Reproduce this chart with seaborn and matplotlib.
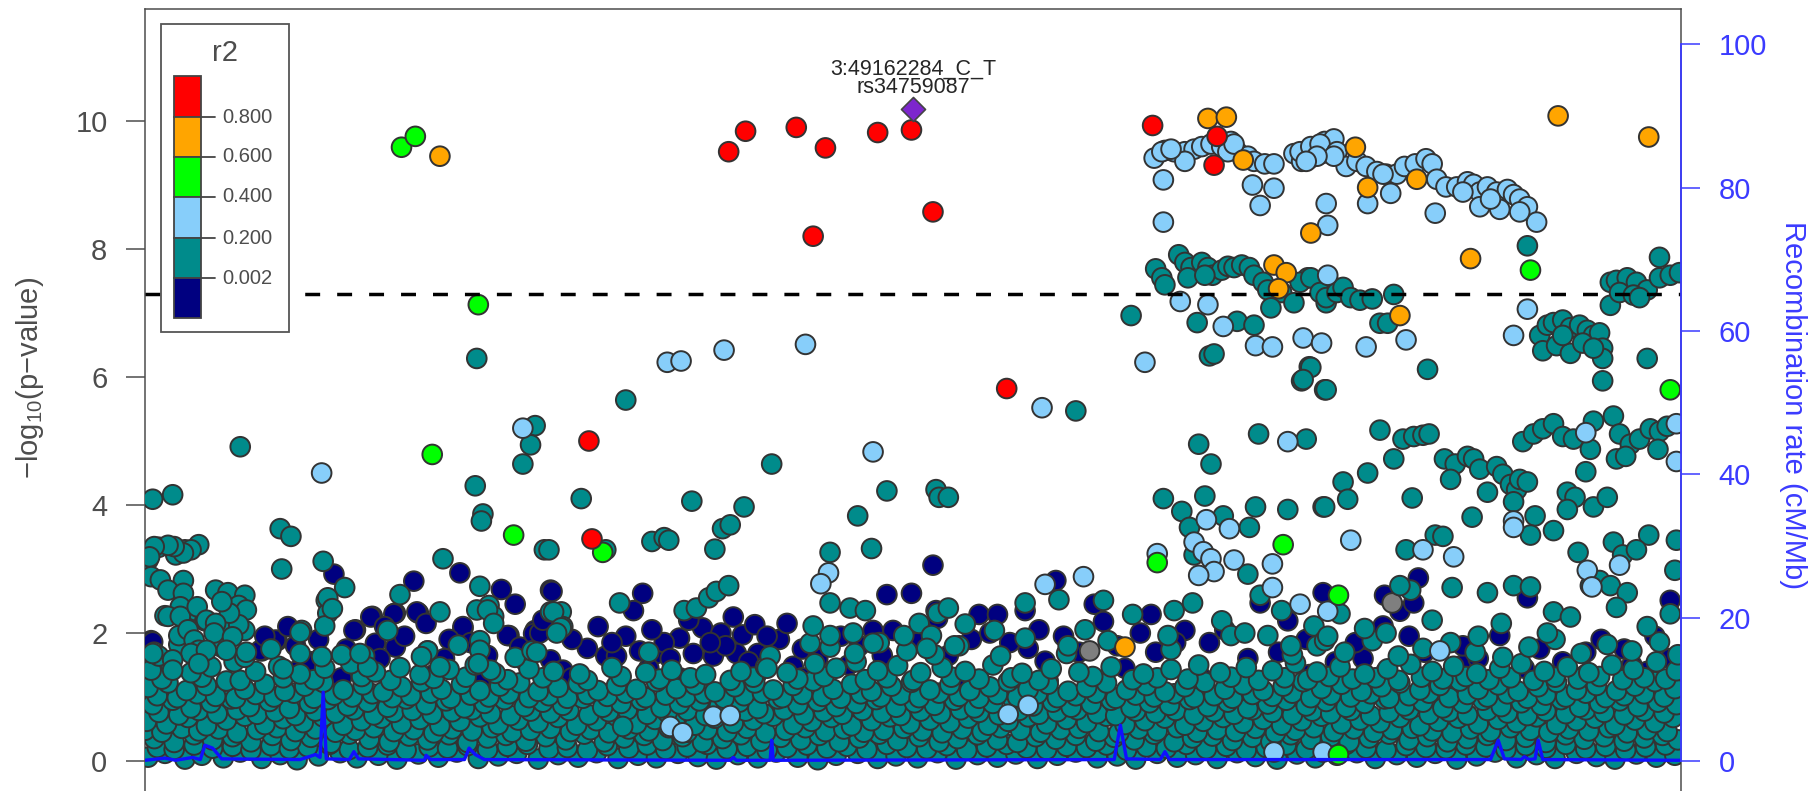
"""
Regional association plot (LocusZoom style) around 3:49162284
"""

import pandas as pd
import matplotlib.pyplot as plt
from matplotlib.patches import Rectangle
import seaborn as sns

# ---- data: (position in kb on chr3, -log10 p) grouped by LD r2 bin ----
lead_snp = (49162.284, 10.19)
lead_names = ['3:49162284_C_T', 'rs34759087']

red_snps = [(48951, 5.0), (48953, 3.47), (49042, 9.52), (49053, 9.84), (49086, 9.90),
            (49097, 8.2), (49105, 9.58), (49139, 9.82), (49161, 9.86), (49175, 8.58),
            (49223, 5.82), (49318, 9.93), (49360, 9.76), (49358, 9.31)]

orange_snps = [(48854, 9.45), (49354, 10.04), (49366, 10.06), (49377, 9.39), (49421, 8.25),
               (49397, 7.75), (49405, 7.63), (49400, 7.38), (49300, 1.78), (49450, 9.59),
               (49458, 8.96), (49490, 9.09), (49525, 7.85), (49479, 6.96), (49582, 10.08),
               (49641, 9.75)]

green_snps = [(48829, 9.59), (48838, 9.76), (48879, 7.13), (48849, 4.79), (48902, 3.53),
              (48960, 3.26), (49321, 3.10), (49403, 3.38), (49439, 2.59), (49439, 0.10),
              (49564, 7.67), (49655, 5.80)]

ltblue_snps = [(48908, 5.20), (48777, 4.50), (49002, 6.23), (49011, 6.25), (49039, 6.42),
               (49092, 6.51), (49136, 4.83), (49107, 2.94), (49102, 2.77), (49004, 0.54),
               (49012, 0.44), (49032, 0.70), (49043, 0.71),
               (49319, 9.42), (49326, 9.54), (49332, 9.52), (49339, 9.52), (49345, 9.56),
               (49350, 9.60), (49356, 9.64), (49363, 9.60), (49369, 9.68), (49373, 9.52),
               (49380, 9.45), (49384, 9.37), (49391, 9.33), (49397, 9.33), (49410, 9.49),
               (49417, 9.52), (49426, 9.60), (49430, 9.68), (49434, 9.52), (49339, 9.37),
               (49324, 9.52), (49330, 9.56), (49367, 9.52), (49371, 9.64), (49415, 9.37),
               (49420, 9.41), (49428, 9.49), (49436, 9.72),
               (49325, 9.08), (49383, 9.0), (49397, 8.95), (49388, 8.68), (49325, 8.42),
               (49431, 8.71), (49432, 8.37), (49432, 7.59), (49336, 7.18), (49354, 7.13),
               (49364, 6.79), (49385, 6.49), (49396, 6.47), (49416, 6.61), (49428, 6.53),
               (49313, 6.23), (49246, 5.52), (49406, 4.99), (49353, 3.77), (49368, 3.63),
               (49345, 3.42), (49351, 3.27), (49356, 3.16), (49358, 2.96), (49348, 2.90),
               (49371, 3.14), (49321, 3.24), (49396, 3.08), (49396, 2.71), (49414, 2.45),
               (49432, 2.34), (49248, 2.76), (49273, 2.88), (49224, 0.73), (49237, 0.87),
               (49397, 0.14), (49429, 0.14),
               (49414, 9.52), (49421, 9.60), (49427, 9.64), (49438, 9.52), (49444, 9.29),
               (49451, 9.37), (49457, 9.29), (49464, 9.21), (49470, 9.17), (49477, 9.17),
               (49482, 9.29), (49489, 9.33), (49496, 9.41), (49500, 9.33), (49503, 9.09),
               (49509, 8.97), (49516, 8.97), (49523, 9.05), (49527, 9.01), (49531, 8.89),
               (49536, 8.97), (49542, 8.89), (49549, 8.93), (49553, 8.85), (49557, 8.78),
               (49562, 8.66), (49568, 8.42), (49531, 8.66), (49544, 8.62), (49557, 8.58),
               (49436, 9.45), (49425, 9.45), (49418, 9.37), (49468, 9.17), (49520, 8.89),
               (49538, 8.78), (49458, 8.71), (49473, 8.87), (49502, 8.56), (49562, 7.06),
               (49553, 6.65), (49457, 6.47), (49483, 6.58), (49447, 3.45), (49494, 3.30),
               (49514, 3.19), (49553, 3.75), (49553, 3.65), (49505, 1.72), (49600, 5.13),
               (49659, 5.27), (49659, 4.68), (49601, 2.98), (49604, 2.72), (49622, 3.06)]

teal_snps = [(48878, 6.29), (48916, 5.24), (48913, 4.94), (48908, 4.64), (48724, 4.91),
             (48877, 4.30), (48882, 3.86), (48881, 3.75), (48667, 4.09), (48680, 4.16),
             (48750, 3.63), (48757, 3.51), (48751, 3.0), (48778, 3.12), (48792, 2.71),
             (48856, 3.16), (48880, 2.73), (48922, 3.3), (48828, 2.60), (48780, 2.51),
             (48781, 2.31), (48779, 2.11), (48764, 2.04), (48854, 2.33), (48886, 2.43),
             (48889, 2.26), (48880, 1.88), (48914, 1.72), (48820, 2.04), (48846, 1.72),
             (48805, 1.64), (48708, 2.67), (48716, 2.63), (48727, 2.59), (48697, 3.38),
             (48688, 3.30), (48682, 3.22), (48671, 3.34), (48664, 3.14), (48687, 2.82),
             (48686, 2.43), (48695, 2.35), (48675, 2.27), (48701, 2.19), (48723, 2.43),
             (48716, 2.11), (48727, 2.04), (48684, 1.96), (48712, 1.88), (48671, 1.64),
             (48692, 3.30), (48687, 3.25), (48681, 3.35), (48677, 3.37), (48668, 3.35),
             (48665, 3.19), (48666, 2.88), (48672, 2.83), (48677, 2.67), (48687, 2.62),
             (48685, 2.41), (48677, 2.26), (48685, 2.26), (48690, 2.05), (48694, 1.89),
             (48697, 1.73), (48692, 1.68), (48680, 1.58), (48680, 1.42), (48667, 1.68),
             (48696, 2.41), (48702, 2.20), (48728, 2.36), (48723, 2.13), (48717, 2.31),
             (48712, 2.49), (48708, 2.15), (48707, 2.0), (48719, 1.94), (48728, 1.70),
             (48715, 1.73), (48702, 1.73), (48697, 1.52), (48763, 2.01), (48781, 2.55),
             (48784, 2.38), (48878, 2.36), (48885, 2.36), (48889, 2.15), (48866, 1.81),
             (48917, 1.70), (48926, 2.33), (48933, 2.33), (48934, 2.10), (48880, 1.73),
             (48887, 1.42), (48879, 1.52), (48854, 1.47), (48842, 1.63), (48807, 1.47),
             (48802, 1.68), (48777, 1.63), (48763, 1.68), (48752, 1.44),
             (48975, 5.64), (48946, 4.10), (49018, 4.06), (49070, 4.64), (49145, 4.22),
             (49126, 3.83), (49135, 3.32), (49177, 4.24), (49179, 4.12), (48962, 3.3),
             (48925, 3.3), (48992, 3.43), (49000, 3.49), (49003, 3.45), (49033, 3.31),
             (49038, 3.63), (49043, 3.69), (49052, 3.97), (49108, 3.26), (49108, 2.47),
             (48971, 2.47), (48928, 2.33), (48933, 2.08), (48930, 2.0), (49013, 2.35),
             (49021, 2.39), (49029, 2.55), (49034, 2.65), (49042, 2.74), (49067, 1.45),
             (49095, 1.84), (49097, 2.11), (49108, 1.96), (49121, 2.39), (49131, 2.35),
             (49123, 2.0), (49136, 1.84), (49156, 1.96), (49166, 2.15), (49174, 1.96),
             (49171, 1.76), (49178, 2.31), (48973, 0.54),
             (49320, 7.69), (49324, 7.55), (49326, 7.44), (49335, 7.91), (49339, 7.79),
             (49343, 7.71), (49350, 7.79), (49354, 7.71), (49357, 7.59), (49363, 7.67),
             (49367, 7.73), (49371, 7.71), (49376, 7.75), (49381, 7.71), (49384, 7.59),
             (49390, 7.48), (49393, 7.36), (49402, 7.32), (49410, 7.16), (49419, 7.55),
             (49426, 7.48), (49431, 7.16), (49436, 7.40), (49341, 7.55), (49352, 7.59),
             (49304, 6.96), (49347, 6.85), (49373, 6.87), (49384, 6.81), (49395, 7.08),
             (49355, 6.33), (49358, 6.36), (49420, 6.16), (49415, 5.94), (49430, 5.80),
             (49268, 5.47), (49185, 4.12), (49387, 5.11), (49418, 5.03), (49348, 4.95),
             (49356, 4.64), (49325, 4.10), (49337, 3.90), (49352, 4.14), (49385, 3.97),
             (49406, 3.93), (49429, 3.97), (49364, 3.83), (49381, 3.65), (49342, 3.65),
             (49345, 3.22), (49380, 2.92), (49388, 2.59), (49257, 2.52), (49185, 2.39),
             (49196, 2.14), (49215, 2.04), (49235, 2.47), (49286, 2.51), (49274, 2.05),
             (49305, 2.29), (49332, 2.35), (49344, 2.47), (49363, 2.19), (49369, 1.96),
             (49328, 1.96), (49378, 2.0), (49402, 2.35), (49423, 2.11), (49430, 1.88),
             (49393, 1.96), (49408, 1.80), (49235, 1.92), (49189, 1.80), (49219, 1.64),
             (49263, 1.80), (49289, 1.88),
             (49414, 7.48), (49421, 7.55), (49427, 7.32), (49431, 7.24), (49438, 7.32),
             (49442, 7.40), (49447, 7.24), (49453, 7.20), (49461, 7.22), (49475, 7.29),
             (49466, 6.84), (49471, 6.84), (49421, 6.15), (49416, 5.96), (49431, 5.80),
             (49497, 6.12), (49562, 8.05),
             (49570, 6.65), (49575, 6.81), (49579, 6.85), (49585, 6.89), (49590, 6.77),
             (49596, 6.81), (49601, 6.73), (49605, 6.65), (49609, 6.69), (49611, 6.45),
             (49611, 6.29), (49572, 6.41), (49581, 6.49), (49590, 6.37), (49598, 6.53),
             (49605, 6.45), (49585, 6.65), (49611, 5.94), (49640, 6.29),
             (49616, 7.48), (49620, 7.51), (49627, 7.55), (49633, 7.48), (49640, 7.36),
             (49648, 7.87), (49648, 7.55), (49655, 7.59), (49661, 7.63), (49616, 7.12),
             (49622, 7.32), (49631, 7.28), (49635, 7.24),
             (49466, 5.17), (49481, 5.03), (49488, 5.07), (49494, 5.09), (49498, 5.11),
             (49475, 4.72), (49458, 4.5), (49442, 4.36), (49445, 4.09), (49430, 3.97),
             (49487, 4.11), (49508, 4.72), (49515, 4.64), (49523, 4.76), (49527, 4.72),
             (49531, 4.56), (49536, 4.20), (49542, 4.60), (49546, 4.48), (49551, 4.32),
             (49555, 4.24), (49557, 4.40), (49562, 4.36), (49512, 4.40), (49526, 3.81),
             (49553, 4.05), (49567, 3.83), (49564, 3.53), (49579, 3.60),
             (49559, 4.99), (49566, 5.11), (49572, 5.19), (49579, 5.27), (49585, 5.07),
             (49592, 5.03), (49605, 5.31), (49603, 4.87), (49618, 5.39), (49622, 5.11),
             (49629, 4.95), (49635, 5.03), (49642, 5.19), (49648, 5.15), (49653, 5.23),
             (49647, 4.87), (49620, 4.72), (49626, 4.76), (49588, 4.20), (49593, 4.12),
             (49600, 4.52), (49605, 3.97), (49614, 4.12), (49588, 3.93), (49641, 3.53),
             (49659, 3.45), (49658, 2.98), (49618, 3.42), (49624, 3.22), (49633, 3.30),
             (49595, 3.26), (49483, 3.30), (49502, 3.53), (49507, 3.51), (49513, 2.71),
             (49536, 2.63), (49553, 2.74), (49564, 2.72), (49579, 2.33), (49486, 2.67),
             (49479, 2.74), (49456, 2.07), (49603, 2.74), (49609, 2.82), (49616, 2.74),
             (49627, 2.63), (49440, 2.3), (49470, 2.0), (49500, 2.2), (49530, 1.95),
             (49545, 2.15), (49575, 2.0), (49590, 2.25), (49620, 2.4), (49640, 2.1),
             (49655, 2.3), (49432, 1.95)]

navy_snps = [(48785, 2.92), (48867, 2.94), (48894, 2.68), (48903, 2.45), (48837, 2.81),
             (48748, 1.88), (48799, 2.05), (48810, 2.26), (48825, 2.31), (48840, 2.31),
             (48869, 2.07), (48899, 1.96), (48916, 2.04), (48666, 1.88), (48738, 1.72),
             (48798, 2.04), (48809, 2.25), (48839, 2.33), (48824, 2.30), (48825, 1.78),
             (48812, 1.84), (48869, 2.10), (48898, 1.96), (48906, 1.78), (48926, 2.67),
             (48915, 1.99), (48926, 1.58), (48950, 1.76), (48934, 1.42), (48667, 1.86),
             (48737, 1.73), (48747, 1.89),
             (49175, 3.06), (49145, 2.60), (49161, 2.62), (48927, 2.65), (48986, 2.62),
             (48980, 2.35), (49025, 2.08), (49037, 2.0), (49051, 1.97), (49059, 2.13),
             (49010, 1.92), (48962, 1.64), (48969, 1.64), (48984, 1.72), (48995, 1.68),
             (49019, 1.68), (49032, 1.64), (49047, 1.68), (49061, 1.68), (49084, 1.48),
             (49136, 2.04), (49149, 2.04), (49177, 2.35), (48919, 2.0),
             (49388, 2.47), (49429, 2.63), (49255, 2.82), (49178, 2.23), (49205, 2.29),
             (49217, 2.29), (49235, 2.35), (49280, 2.45), (49286, 2.18), (49317, 2.29),
             (49339, 2.04), (49406, 2.19), (49237, 1.76), (49248, 1.56),
             (49469, 2.59), (49479, 2.34), (49491, 2.86), (49488, 2.47), (49562, 2.55),
             (49468, 2.11), (49655, 2.51), (49544, 1.96), (49455, 1.6), (49520, 1.5),
             (49600, 1.7), (49630, 1.5),
             (48740, 1.95), (48760, 1.8), (48775, 1.9), (48815, 1.6), (48860, 1.9),
             (48885, 1.65), (48940, 1.9), (48975, 1.95), (49000, 1.85), (49040, 1.8),
             (49075, 1.9), (49090, 1.75), (49115, 1.95), (49200, 1.9), (49225, 1.85),
             (49260, 1.95), (49295, 1.8), (49320, 1.7), (49355, 1.85), (49400, 1.7),
             (49450, 1.85), (49485, 1.95), (49520, 1.8), (49570, 1.75), (49610, 1.9),
             (49645, 1.95),
             (48670, 1.5), (48700, 1.3), (48760, 1.4), (48790, 1.3), (48850, 1.35),
             (48880, 1.25), (48940, 1.3), (48990, 1.45), (49010, 1.3), (49060, 1.35),
             (49090, 1.3), (49120, 1.5), (49190, 1.3), (49250, 1.25), (49300, 1.45),
             (49350, 1.3), (49420, 1.35), (49470, 1.4), (49510, 1.3), (49560, 1.45),
             (49600, 1.35), (49640, 1.4), (49655, 1.6),
             (48755, 2.1), (48770, 1.55), (48793, 1.75), (48818, 2.1), (48831, 1.95),
             (48845, 2.15), (48857, 1.6), (48874, 1.85), (48910, 1.55), (48921, 2.2),
             (48957, 2.1), (48966, 1.85), (48992, 2.05), (49004, 1.6), (49016, 2.2),
             (49030, 1.85), (49045, 2.25), (49055, 1.55), (49067, 1.95), (49080, 2.15),
             (49100, 1.6), (49127, 1.8), (49142, 1.65), (49165, 1.85), (49185, 1.65),
             (49212, 2.0), (49244, 2.05), (49270, 1.7), (49310, 2.0), (49333, 1.85),
             (49365, 2.05), (49380, 1.6), (49418, 1.9), (49437, 1.55), (49495, 1.7),
             (49530, 1.6), (49585, 1.55), (49625, 1.75)]

gray_snps = [(49277, 1.72), (49474, 2.47)]

# dense low-significance band (mostly r2 0.002-0.2)
band_row0 = [(48664, 0.06), (48675, 0.12), (48688, 0.03), (48699, 0.09), (48713, 0.05), (48724, 0.14),
             (48738, 0.04), (48750, 0.1), (48761, 0.02), (48775, 0.08), (48789, 0.13), (48800, 0.05),
             (48814, 0.09), (48826, 0.03), (48840, 0.11), (48853, 0.06), (48865, 0.14), (48879, 0.04),
             (48892, 0.08), (48904, 0.12), (48918, 0.03), (48931, 0.1), (48944, 0.06), (48956, 0.13),
             (48970, 0.04), (48983, 0.09), (48995, 0.05), (49009, 0.12), (49022, 0.07), (49034, 0.03),
             (49048, 0.1), (49061, 0.05), (49073, 0.14), (49087, 0.06), (49100, 0.02), (49112, 0.09),
             (49126, 0.12), (49139, 0.04), (49151, 0.08), (49165, 0.05), (49178, 0.13), (49190, 0.03),
             (49204, 0.1), (49217, 0.06), (49229, 0.11), (49243, 0.04), (49256, 0.09), (49268, 0.14),
             (49282, 0.05), (49295, 0.08), (49307, 0.03), (49321, 0.12), (49334, 0.06), (49346, 0.1),
             (49360, 0.04), (49373, 0.13), (49385, 0.07), (49399, 0.03), (49412, 0.11), (49424, 0.05),
             (49438, 0.09), (49451, 0.13), (49463, 0.04), (49477, 0.1), (49490, 0.06), (49502, 0.12),
             (49516, 0.03), (49529, 0.08), (49541, 0.14), (49555, 0.05), (49568, 0.1), (49580, 0.04),
             (49594, 0.12), (49607, 0.07), (49619, 0.03), (49633, 0.11), (49646, 0.06), (49658, 0.09)]
band_row1 = [(48668, 0.35), (48681, 0.29), (48694, 0.41), (48706, 0.33), (48719, 0.38), (48731, 0.3),
             (48745, 0.4), (48757, 0.32), (48770, 0.37), (48783, 0.28), (48795, 0.42), (48808, 0.34),
             (48821, 0.3), (48834, 0.39), (48846, 0.33), (48860, 0.41), (48872, 0.29), (48885, 0.36),
             (48897, 0.4), (48910, 0.31), (48923, 0.38), (48936, 0.33), (48948, 0.42), (48961, 0.3),
             (48974, 0.36), (48987, 0.4), (48999, 0.32), (49012, 0.38), (49025, 0.29), (49038, 0.35),
             (49050, 0.41), (49063, 0.31), (49076, 0.37), (49089, 0.33), (49101, 0.4), (49114, 0.3),
             (49127, 0.36), (49140, 0.42), (49152, 0.32), (49166, 0.38), (49179, 0.3), (49191, 0.35),
             (49204, 0.41), (49217, 0.33), (49230, 0.29), (49242, 0.38), (49255, 0.34), (49268, 0.4),
             (49281, 0.31), (49293, 0.37), (49306, 0.33), (49319, 0.42), (49332, 0.3), (49344, 0.36),
             (49357, 0.39), (49370, 0.32), (49383, 0.37), (49395, 0.3), (49408, 0.41), (49421, 0.34),
             (49434, 0.38), (49446, 0.3), (49459, 0.36), (49472, 0.42), (49485, 0.33), (49497, 0.38),
             (49510, 0.3), (49523, 0.35), (49536, 0.4), (49548, 0.32), (49561, 0.37), (49574, 0.29),
             (49587, 0.41), (49599, 0.34), (49612, 0.38), (49625, 0.31), (49638, 0.36), (49650, 0.4),
             (49660, 0.33)]
band_row2 = [(48663, 0.62), (48676, 0.58), (48690, 0.68), (48702, 0.55), (48715, 0.64), (48727, 0.7),
             (48740, 0.57), (48752, 0.66), (48765, 0.6), (48778, 0.69), (48791, 0.56), (48803, 0.63),
             (48816, 0.67), (48829, 0.58), (48841, 0.65), (48854, 0.55), (48867, 0.62), (48880, 0.69),
             (48892, 0.57), (48905, 0.64), (48918, 0.6), (48931, 0.68), (48943, 0.56), (48956, 0.63),
             (48969, 0.7), (48982, 0.58), (48994, 0.65), (49007, 0.61), (49020, 0.56), (49033, 0.67),
             (49045, 0.59), (49058, 0.64), (49071, 0.7), (49084, 0.57), (49096, 0.62), (49109, 0.68),
             (49122, 0.55), (49135, 0.63), (49147, 0.69), (49160, 0.58), (49173, 0.64), (49186, 0.6),
             (49198, 0.67), (49211, 0.56), (49224, 0.62), (49237, 0.69), (49249, 0.58), (49262, 0.65),
             (49275, 0.6), (49288, 0.7), (49300, 0.57), (49313, 0.63), (49326, 0.67), (49339, 0.56),
             (49351, 0.62), (49364, 0.68), (49377, 0.59), (49390, 0.65), (49402, 0.56), (49415, 0.63),
             (49428, 0.7), (49441, 0.58), (49453, 0.64), (49466, 0.6), (49479, 0.68), (49492, 0.55),
             (49504, 0.62), (49517, 0.67), (49530, 0.58), (49543, 0.65), (49555, 0.6), (49568, 0.69),
             (49581, 0.57), (49594, 0.63), (49606, 0.67), (49619, 0.56), (49632, 0.64), (49645, 0.6),
             (49657, 0.68)]
band_row3 = [(48667, 0.88), (48680, 0.95), (48692, 0.83), (48705, 0.91), (48718, 0.97), (48730, 0.85),
             (48743, 0.93), (48756, 0.82), (48769, 0.9), (48781, 0.96), (48794, 0.86), (48807, 0.92),
             (48820, 0.84), (48832, 0.97), (48845, 0.88), (48858, 0.94), (48870, 0.83), (48883, 0.9),
             (48896, 0.96), (48909, 0.85), (48921, 0.92), (48934, 0.87), (48947, 0.98), (48960, 0.84),
             (48972, 0.9), (48985, 0.95), (48998, 0.83), (49010, 0.89), (49023, 0.94), (49036, 0.86),
             (49049, 0.92), (49061, 0.82), (49074, 0.97), (49087, 0.88), (49100, 0.93), (49112, 0.85),
             (49125, 0.9), (49138, 0.96), (49151, 0.84), (49163, 0.91), (49176, 0.87), (49189, 0.95),
             (49202, 0.83), (49214, 0.9), (49227, 0.97), (49240, 0.86), (49253, 0.92), (49265, 0.84),
             (49278, 0.89), (49291, 0.95), (49304, 0.83), (49316, 0.91), (49329, 0.87), (49342, 0.96),
             (49354, 0.85), (49367, 0.92), (49380, 0.82), (49393, 0.89), (49405, 0.95), (49418, 0.86),
             (49431, 0.93), (49444, 0.84), (49456, 0.9), (49469, 0.97), (49482, 0.86), (49494, 0.92),
             (49507, 0.83), (49520, 0.9), (49533, 0.95), (49545, 0.85), (49558, 0.91), (49571, 0.87),
             (49584, 0.96), (49596, 0.84), (49609, 0.9), (49622, 0.94), (49634, 0.85), (49647, 0.92),
             (49659, 0.88)]
band_row4 = [(48664, 1.15), (48677, 1.22), (48689, 1.1), (48702, 1.18), (48715, 1.25), (48727, 1.12),
             (48740, 1.2), (48753, 1.09), (48766, 1.17), (48778, 1.23), (48791, 1.11), (48804, 1.19),
             (48817, 1.08), (48829, 1.16), (48842, 1.24), (48855, 1.12), (48868, 1.2), (48880, 1.1),
             (48893, 1.17), (48906, 1.22), (48918, 1.09), (48931, 1.15), (48944, 1.21), (48957, 1.1),
             (48969, 1.18), (48982, 1.12), (48995, 1.24), (49008, 1.13), (49020, 1.19), (49033, 1.08),
             (49046, 1.16), (49059, 1.22), (49071, 1.11), (49084, 1.18), (49097, 1.25), (49110, 1.12),
             (49122, 1.2), (49135, 1.09), (49148, 1.17), (49161, 1.23), (49173, 1.11), (49186, 1.19),
             (49199, 1.1), (49212, 1.16), (49224, 1.24), (49237, 1.12), (49250, 1.2), (49263, 1.09),
             (49275, 1.15), (49288, 1.22), (49301, 1.11), (49314, 1.18), (49326, 1.08), (49339, 1.16),
             (49352, 1.23), (49365, 1.12), (49377, 1.19), (49390, 1.1), (49403, 1.17), (49416, 1.24),
             (49428, 1.13), (49441, 1.2), (49454, 1.09), (49467, 1.16), (49479, 1.22), (49492, 1.11),
             (49505, 1.18), (49518, 1.25), (49530, 1.12), (49543, 1.19), (49556, 1.09), (49569, 1.16),
             (49581, 1.23), (49594, 1.11), (49607, 1.18), (49620, 1.1), (49632, 1.17), (49645, 1.24),
             (49658, 1.13)]
band_row5 = [(48666, 1.42), (48679, 1.5), (48692, 1.38), (48705, 1.47), (48720, 1.55), (48734, 1.4),
             (48749, 1.48), (48763, 1.36), (48779, 1.45), (48796, 1.52), (48812, 1.39), (48828, 1.46),
             (48841, 1.35), (48860, 1.43), (48877, 1.5), (48890, 1.37), (48912, 1.44), (48928, 1.4),
             (48945, 1.36), (48966, 1.46), (48988, 1.38), (49005, 1.42), (49027, 1.35), (49050, 1.4),
             (49066, 1.47), (49080, 1.38), (49098, 1.52), (49112, 1.45), (49125, 1.55), (49139, 1.41),
             (49152, 1.49), (49167, 1.38), (49181, 1.46), (49196, 1.4), (49214, 1.5), (49233, 1.37),
             (49252, 1.44), (49270, 1.39), (49291, 1.47), (49312, 1.36), (49330, 1.43), (49348, 1.5),
             (49362, 1.38), (49379, 1.46), (49396, 1.41), (49411, 1.53), (49425, 1.39), (49440, 1.47),
             (49456, 1.36), (49471, 1.44), (49486, 1.51), (49500, 1.4), (49514, 1.48), (49529, 1.37),
             (49544, 1.45), (49558, 1.52), (49573, 1.4), (49588, 1.47), (49602, 1.38), (49617, 1.5),
             (49631, 1.43), (49646, 1.55), (49659, 1.41)]
band_row6 = [(48668, 1.7), (48684, 1.82), (48698, 1.65), (48712, 1.78), (48727, 1.62), (48744, 1.75),
             (48790, 1.66), (48846, 1.72), (48903, 1.62), (48990, 1.7), (49069, 1.64), (49108, 1.78),
             (49124, 1.68), (49140, 1.85), (49158, 1.72), (49176, 1.66), (49192, 1.8), (49262, 1.68),
             (49330, 1.74), (49409, 1.66), (49425, 1.8), (49443, 1.7), (49461, 1.88), (49478, 1.64),
             (49494, 1.76), (49512, 1.85), (49528, 1.7), (49546, 1.62), (49563, 1.78), (49580, 1.9),
             (49597, 1.68), (49614, 1.82), (49630, 1.72), (49648, 1.86), (49660, 1.66)]
band_row7 = [(48670, 0.21), (48681, 0.18), (48694, 0.25), (48706, 0.2), (48719, 0.23), (48731, 0.17),
             (48744, 0.24), (48756, 0.19), (48768, 0.22), (48782, 0.26), (48795, 0.18), (48807, 0.21),
             (48820, 0.25), (48832, 0.17), (48847, 0.22), (48859, 0.2), (48872, 0.24), (48885, 0.18),
             (48898, 0.23), (48911, 0.26), (48925, 0.19), (48937, 0.21), (48950, 0.17), (48963, 0.24),
             (48977, 0.2), (48989, 0.25), (49001, 0.18), (49015, 0.22), (49028, 0.26), (49041, 0.19),
             (49054, 0.23), (49067, 0.17), (49080, 0.21), (49093, 0.25), (49106, 0.2), (49119, 0.23),
             (49132, 0.18), (49145, 0.26), (49158, 0.21), (49171, 0.19), (49184, 0.24), (49197, 0.17),
             (49210, 0.22), (49223, 0.26), (49236, 0.2), (49249, 0.18), (49262, 0.23), (49275, 0.21),
             (49288, 0.25), (49301, 0.17), (49314, 0.22), (49327, 0.2), (49340, 0.26), (49353, 0.19),
             (49366, 0.23), (49379, 0.17), (49392, 0.21), (49405, 0.25), (49418, 0.18), (49431, 0.22),
             (49444, 0.26), (49457, 0.2), (49470, 0.17), (49483, 0.24), (49496, 0.21), (49509, 0.19),
             (49522, 0.25), (49535, 0.22), (49548, 0.18), (49561, 0.24), (49574, 0.2), (49587, 0.26),
             (49600, 0.19), (49613, 0.23), (49626, 0.17), (49639, 0.22), (49652, 0.25)]
band_row8 = [(48662, 0.48), (48673, 0.45), (48686, 0.51), (48697, 0.47), (48710, 0.5), (48722, 0.44),
             (48735, 0.49), (48748, 0.52), (48760, 0.46), (48773, 0.5), (48786, 0.45), (48799, 0.48),
             (48811, 0.52), (48824, 0.46), (48837, 0.49), (48850, 0.44), (48862, 0.5), (48875, 0.47),
             (48888, 0.52), (48901, 0.45), (48913, 0.48), (48926, 0.51), (48939, 0.46), (48952, 0.49),
             (48964, 0.44), (48977, 0.5), (48990, 0.47), (49003, 0.52), (49015, 0.45), (49028, 0.49),
             (49041, 0.46), (49054, 0.51), (49066, 0.44), (49079, 0.48), (49092, 0.52), (49105, 0.46),
             (49117, 0.5), (49130, 0.45), (49143, 0.48), (49156, 0.51), (49168, 0.47), (49181, 0.44),
             (49194, 0.5), (49207, 0.46), (49219, 0.52), (49232, 0.48), (49245, 0.45), (49258, 0.49),
             (49270, 0.51), (49283, 0.46), (49296, 0.44), (49309, 0.5), (49321, 0.47), (49334, 0.52),
             (49347, 0.45), (49360, 0.49), (49372, 0.46), (49385, 0.51), (49398, 0.44), (49411, 0.48),
             (49423, 0.52), (49436, 0.46), (49449, 0.5), (49462, 0.45), (49474, 0.49), (49487, 0.51),
             (49500, 0.47), (49513, 0.44), (49525, 0.5), (49538, 0.46), (49551, 0.52), (49564, 0.48),
             (49576, 0.45), (49589, 0.5), (49602, 0.47), (49615, 0.52), (49627, 0.44), (49640, 0.49),
             (49653, 0.46)]
band_row9 = [(48671, 0.76), (48684, 0.72), (48697, 0.79), (48709, 0.74), (48722, 0.8), (48735, 0.73),
             (48747, 0.77), (48760, 0.71), (48773, 0.78), (48786, 0.75), (48798, 0.8), (48811, 0.72),
             (48824, 0.76), (48836, 0.79), (48849, 0.73), (48862, 0.77), (48875, 0.8), (48887, 0.74),
             (48900, 0.71), (48913, 0.78), (48926, 0.75), (48938, 0.79), (48951, 0.72), (48964, 0.77),
             (48976, 0.8), (48989, 0.73), (49002, 0.76), (49015, 0.79), (49027, 0.71), (49040, 0.75),
             (49053, 0.78), (49065, 0.74), (49078, 0.8), (49091, 0.72), (49104, 0.77), (49116, 0.73),
             (49129, 0.79), (49142, 0.75), (49154, 0.71), (49167, 0.78), (49180, 0.74), (49193, 0.8),
             (49205, 0.76), (49218, 0.72), (49231, 0.79), (49244, 0.73), (49256, 0.77), (49269, 0.8),
             (49282, 0.74), (49294, 0.71), (49307, 0.78), (49320, 0.75), (49333, 0.79), (49345, 0.72),
             (49358, 0.77), (49371, 0.73), (49383, 0.8), (49396, 0.76), (49409, 0.72), (49422, 0.78),
             (49434, 0.74), (49447, 0.79), (49460, 0.71), (49472, 0.76), (49485, 0.8), (49498, 0.73),
             (49511, 0.77), (49523, 0.72), (49536, 0.79), (49549, 0.75), (49562, 0.71), (49574, 0.78),
             (49587, 0.74), (49600, 0.8), (49612, 0.76), (49625, 0.72), (49638, 0.78), (49651, 0.75)]
band_row10 = [(48670, 1.02), (48683, 0.99), (48696, 1.05), (48708, 1.01), (48721, 0.98), (48734, 1.04),
              (48746, 1.0), (48759, 1.06), (48772, 0.98), (48785, 1.03), (48797, 1.0), (48810, 1.05),
              (48823, 0.99), (48835, 1.02), (48848, 1.06), (48861, 0.98), (48874, 1.03), (48886, 1.0),
              (48899, 1.05), (48912, 0.99), (48925, 1.02), (48937, 0.98), (48950, 1.04), (48963, 1.01),
              (48975, 1.06), (48988, 0.99), (49001, 1.03), (49014, 1.0), (49026, 1.05), (49039, 0.98),
              (49052, 1.02), (49064, 1.06), (49077, 0.99), (49090, 1.04), (49103, 1.01), (49115, 0.98),
              (49128, 1.05), (49141, 1.0), (49154, 1.03), (49166, 0.99), (49179, 1.06), (49192, 1.01),
              (49205, 0.98), (49217, 1.04), (49230, 1.0), (49243, 1.05), (49256, 0.99), (49268, 1.02),
              (49281, 1.06), (49294, 0.98), (49307, 1.03), (49319, 1.0), (49332, 1.05), (49345, 0.99),
              (49358, 1.02), (49370, 0.98), (49383, 1.04), (49396, 1.01), (49409, 1.06), (49421, 0.99),
              (49434, 1.03), (49447, 1.0), (49460, 1.05), (49472, 0.98), (49485, 1.02), (49498, 1.06),
              (49511, 0.99), (49523, 1.04), (49536, 1.0), (49549, 1.05), (49562, 0.98), (49574, 1.03),
              (49587, 1.0), (49600, 1.06), (49613, 0.99), (49625, 1.02), (49638, 1.05), (49651, 1.0)]
band_row11 = [(48673, 1.28), (48699, 1.31), (48724, 1.26), (48752, 1.3), (48772, 1.27), (48803, 1.32),
              (48822, 1.26), (48850, 1.29), (48871, 1.31), (48898, 1.27), (48921, 1.3), (48950, 1.26),
              (48972, 1.32), (48997, 1.28), (49017, 1.3), (49043, 1.26), (49058, 1.31), (49087, 1.28),
              (49104, 1.32), (49131, 1.27), (49145, 1.3), (49162, 1.26), (49187, 1.31), (49205, 1.28),
              (49226, 1.3), (49244, 1.26), (49279, 1.32), (49305, 1.27), (49321, 1.3), (49341, 1.28),
              (49369, 1.31), (49387, 1.26), (49404, 1.3), (49419, 1.27), (49433, 1.32), (49448, 1.28),
              (49463, 1.3), (49478, 1.26), (49493, 1.31), (49507, 1.28), (49522, 1.32), (49537, 1.27),
              (49551, 1.3), (49566, 1.26), (49580, 1.31), (49595, 1.28), (49609, 1.32), (49624, 1.27),
              (49638, 1.3), (49652, 1.28)]

# recombination rate (cM/Mb)
recomb_kb = [48662, 48675, 48682, 48693, 48698, 48701, 48706, 48712, 48763, 48773, 48776, 48778,
             48780, 48795, 48798, 48801, 48844, 48845, 48848, 48870, 48873, 48877, 48883, 49043,
             49045, 49047, 49069, 49070, 49071, 49293, 49297, 49301, 49323, 49326, 49329, 49538,
             49543, 49547, 49558, 49560, 49563, 49567, 49569, 49572, 49662]
recomb_rate = [0.1, 0.4, 0.1, 0.5, 0.2, 2.2, 1.8, 0.3, 0.2, 0.9, 0.5, 9.6,
               0.3, 0.2, 1.3, 0.3, 0.1, 0.8, 0.2, 0.2, 1.8, 0.9, 0.2, 0.1,
               0.5, 0.1, 0.1, 2.9, 0.1, 0.2, 5.0, 0.3, 0.2, 1.3, 0.2, 0.2,
               2.9, 0.3, 0.2, 0.6, 0.2, 0.3, 2.9, 0.2, 0.1]

ld_colors = {'na': '#7f7f7f', 'navy': '#000080', 'teal': '#008b8b', 'ltblue': '#87cefa',
             'green': '#00ff00', 'orange': '#ffa500', 'red': '#ff0000'}
legend_labels = ['0.800', '0.600', '0.400', '0.200', '0.002']

band = (band_row0 + band_row7 + band_row1 + band_row8 + band_row2 + band_row9 + band_row3
        + band_row10 + band_row4 + band_row11 + band_row5 + band_row6)

# build table in drawing order (low LD at the back)
groups = [('navy', navy_snps), ('na', gray_snps), ('teal', band),
          ('teal', teal_snps), ('ltblue', ltblue_snps), ('green', green_snps),
          ('orange', orange_snps), ('red', red_snps)]
rows = []
for name, pts in groups:
    for pos, lp in pts:
        rows.append((pos, lp, name))
df = pd.DataFrame(rows, columns=['pos', 'logp', 'ld'])
recomb = pd.DataFrame({'pos': recomb_kb, 'rate': recomb_rate})

# ---- plot ----
sns.set_style('white')
plt.rcParams['font.family'] = ['Liberation Sans', 'DejaVu Sans']
plt.rcParams['mathtext.default'] = 'regular'

axis_grey = '#4d4d4d'
recomb_blue = '#3b3bff'

fig = plt.figure(figsize=(18.16, 7.91), dpi=100)
ax = fig.add_axes([145 / 1816, -2 / 791, 1536 / 1816, 784 / 791])

sns.scatterplot(data=df, x='pos', y='logp', hue='ld', palette=ld_colors, s=200,
                edgecolor='#333333', linewidth=1.4, legend=False, ax=ax, zorder=3)
sns.scatterplot(x=[lead_snp[0]], y=[lead_snp[1]], marker='D', s=150, color='#7d26cd',
                edgecolor='#444444', linewidth=1.2, ax=ax, zorder=5)
ax.text(lead_snp[0], 10.81, lead_names[0], ha='center', va='center', fontsize=15.5, zorder=6)
ax.text(lead_snp[0], 10.53, lead_names[1], ha='center', va='center', fontsize=15.5, zorder=6)

ax.axhline(7.3, color='black', lw=2.5, ls=(0, (4.3, 4.9)), zorder=4)

ax.set_xlim(48662, 49662)
ax.set_ylim(-0.5, 11.75)
ax.set_xticks([])
ax.set_yticks([0, 2, 4, 6, 8, 10])
ax.set_xlabel('')
ax.set_ylabel('')
ax.tick_params(axis='y', length=14, width=1.1, color=axis_grey, labelcolor=axis_grey,
               labelsize=21, pad=13)
for side in ['left', 'top', 'right']:
    ax.spines[side].set_color(axis_grey)
    ax.spines[side].set_linewidth(1.1)
ax.spines['bottom'].set_visible(False)

# recombination rate on the right axis
ax2 = ax.twinx()
sns.lineplot(data=recomb, x='pos', y='rate', color='#1010ff', lw=2.4, ax=ax2)
ax2.set_ylim(-0.5 * 100 / 11.2, 11.75 * 100 / 11.2)
ax2.set_yticks([0, 20, 40, 60, 80, 100])
ax2.set_xlim(48662, 49662)
ax2.set_xticks([])
ax2.set_xlabel('')
ax2.set_ylabel('')
for side in ['left', 'top', 'bottom']:
    ax2.spines[side].set_visible(False)
ax2.spines['right'].set_color(recomb_blue)
ax2.spines['right'].set_linewidth(1.3)
ax2.spines['right'].set_bounds(0, 100)
ax2.tick_params(axis='y', length=14, width=1.1, color=recomb_blue, labelcolor=recomb_blue,
                labelsize=21, pad=13)

fig.text(30 / 1816, 1 - 378 / 791, '\u2212log$_{10}$(p\u2212value)', rotation=90,
         ha='center', va='center', fontsize=21, color=axis_grey)
fig.text(1793 / 1816, 1 - 405 / 791, 'Recombination rate (cM/Mb)', rotation=270,
         ha='center', va='center', fontsize=21, color=recomb_blue)

# r2 legend (colour key)
lax = fig.add_axes([161 / 1816, 1 - 332 / 791, 128 / 1816, 308 / 791])
lax.set_xlim(161, 289)
lax.set_ylim(332, 24)
lax.axis('off')
lax.add_patch(Rectangle((161, 24), 128, 308, facecolor='white', edgecolor='#555555',
                        lw=1.3, clip_on=False))
lax.text(225, 53, 'r2', ha='center', va='center', fontsize=21, color=axis_grey)
key_order = ['red', 'orange', 'green', 'ltblue', 'teal', 'navy']
edges = [76, 117, 157, 197, 238, 278, 318]
for i, key in enumerate(key_order):
    lax.add_patch(Rectangle((174, edges[i]), 27, edges[i + 1] - edges[i],
                            facecolor=ld_colors[key], edgecolor='#444444', lw=1.3))
for i, lab in enumerate(legend_labels):
    yb = edges[i + 1]
    lax.plot([201, 215], [yb, yb], color='#444444', lw=1.3)
    lax.text(222, yb, lab, ha='left', va='center', fontsize=14.5, color=axis_grey)

plt.savefig('out.png', dpi=100)
plt.close()
